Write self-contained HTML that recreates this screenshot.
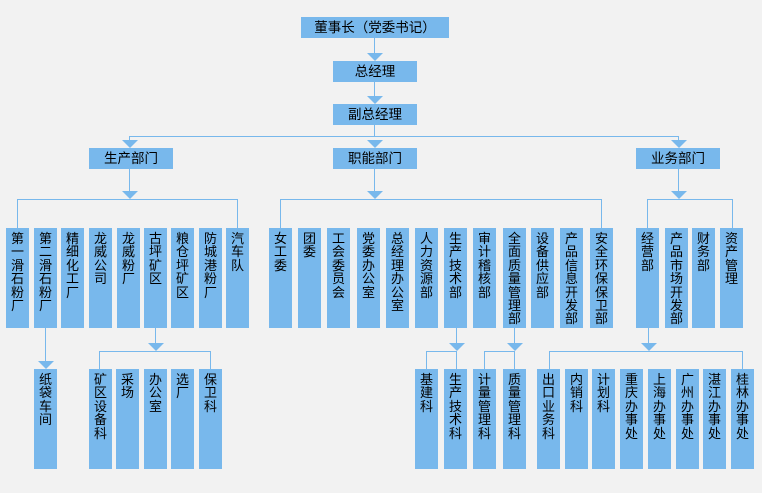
<!DOCTYPE html>
<html><head><meta charset="utf-8"><style>
body{margin:0;width:762px;height:493px;background:#f2f2f2;position:relative;overflow:hidden;font-family:"Liberation Sans","Noto Sans CJK SC","WenQuanYi Zen Hei",sans-serif;}
.b{position:absolute;background:#78b8ec;color:#000;font-size:13px;text-align:center;}
.h{height:21px;line-height:21px;font-size:13.5px;}
.v{width:23px;height:100px;top:228px;line-height:13.4px;padding-top:4px;box-sizing:border-box;word-break:break-all;}
.r3{top:369px;}
.l{position:absolute;background:#78b8ec;}
.a{position:absolute;width:0;height:0;border-left:8px solid transparent;border-right:8px solid transparent;border-top:8px solid #78b8ec;}
</style></head><body>
<div class="b h" style="left:301px;top:17px;width:148px">董事长（党委书记）</div>
<div class="b h" style="left:333px;top:61px;width:84px">总经理</div>
<div class="b h" style="left:333px;top:104px;width:84px">副总经理</div>
<div class="b h" style="left:89px;top:148px;width:84px">生产部门</div>
<div class="b h" style="left:333px;top:148px;width:84px">职能部门</div>
<div class="b h" style="left:636px;top:148px;width:84px">业务部门</div>

<div class="l" style="left:374px;top:38px;width:1px;height:15px"></div><div class="a" style="left:367px;top:53px"></div>
<div class="l" style="left:374px;top:82px;width:1px;height:14px"></div><div class="a" style="left:367px;top:96px"></div>
<div class="l" style="left:374px;top:125px;width:1px;height:11px"></div>
<div class="l" style="left:129px;top:136px;width:550px;height:1px"></div>
<div class="l" style="left:129px;top:136px;width:1px;height:4px"></div><div class="a" style="left:122px;top:140px"></div>
<div class="a" style="left:367px;top:140px"></div>
<div class="l" style="left:678px;top:136px;width:1px;height:4px"></div><div class="a" style="left:671px;top:140px"></div>

<div class="l" style="left:129px;top:169px;width:1px;height:22px"></div><div class="a" style="left:122px;top:191px"></div>
<div class="l" style="left:374px;top:169px;width:1px;height:22px"></div><div class="a" style="left:367px;top:191px"></div>
<div class="l" style="left:678px;top:169px;width:1px;height:22px"></div><div class="a" style="left:671px;top:191px"></div>

<div class="l" style="left:17px;top:199px;width:221px;height:1px"></div>
<div class="l" style="left:17px;top:199px;width:1px;height:29px"></div>
<div class="l" style="left:237px;top:199px;width:1px;height:29px"></div>
<div class="l" style="left:280px;top:199px;width:322px;height:1px"></div>
<div class="l" style="left:280px;top:199px;width:1px;height:29px"></div>
<div class="l" style="left:601px;top:199px;width:1px;height:29px"></div>
<div class="l" style="left:647px;top:199px;width:86px;height:1px"></div>
<div class="l" style="left:647px;top:199px;width:1px;height:29px"></div>
<div class="l" style="left:732px;top:199px;width:1px;height:29px"></div>

<div class="b v" style="left:6px">第一滑石粉厂</div>
<div class="b v" style="left:34px">第二滑石粉厂</div>
<div class="b v" style="left:61px">精细化工厂</div>
<div class="b v" style="left:89px">龙威公司</div>
<div class="b v" style="left:117px">龙威粉厂</div>
<div class="b v" style="left:144px">古坪矿区</div>
<div class="b v" style="left:171px">粮仓坪矿区</div>
<div class="b v" style="left:199px">防城港粉厂</div>
<div class="b v" style="left:226px">汽车队</div>

<div class="b v" style="left:269px">女工委</div>
<div class="b v" style="left:298px">团委</div>
<div class="b v" style="left:327px">工会委员会</div>
<div class="b v" style="left:357px">党委办公室</div>
<div class="b v" style="left:386px">总经理办公室</div>
<div class="b v" style="left:415px">人力资源部</div>
<div class="b v" style="left:444px">生产技术部</div>
<div class="b v" style="left:473px">审计稽核部</div>
<div class="b v" style="left:503px">全面质量管理部</div>
<div class="b v" style="left:531px">设备供应部</div>
<div class="b v" style="left:560px">产品信息开发部</div>
<div class="b v" style="left:590px">安全环保保卫部</div>

<div class="b v" style="left:636px">经营部</div>
<div class="b v" style="left:665px">产品市场开发部</div>
<div class="b v" style="left:692px">财务部</div>
<div class="b v" style="left:720px">资产管理</div>

<div class="l" style="left:45px;top:328px;width:1px;height:33px"></div><div class="a" style="left:38px;top:361px"></div>
<div class="l" style="left:155px;top:328px;width:1px;height:15px"></div><div class="a" style="left:148px;top:343px"></div>
<div class="l" style="left:456px;top:328px;width:1px;height:15px"></div><div class="a" style="left:449px;top:343px"></div>
<div class="l" style="left:514px;top:328px;width:1px;height:15px"></div><div class="a" style="left:507px;top:343px"></div>
<div class="l" style="left:648px;top:328px;width:1px;height:15px"></div><div class="a" style="left:641px;top:343px"></div>

<div class="l" style="left:99px;top:351px;width:112px;height:1px"></div>
<div class="l" style="left:99px;top:351px;width:1px;height:18px"></div>
<div class="l" style="left:210px;top:351px;width:1px;height:18px"></div>
<div class="l" style="left:426px;top:351px;width:31px;height:1px"></div>
<div class="l" style="left:426px;top:351px;width:1px;height:18px"></div>
<div class="l" style="left:456px;top:351px;width:1px;height:18px"></div>
<div class="l" style="left:484px;top:351px;width:31px;height:1px"></div>
<div class="l" style="left:484px;top:351px;width:1px;height:18px"></div>
<div class="l" style="left:514px;top:351px;width:1px;height:18px"></div>
<div class="l" style="left:549px;top:351px;width:194px;height:1px"></div>
<div class="l" style="left:549px;top:351px;width:1px;height:18px"></div>
<div class="l" style="left:742px;top:351px;width:1px;height:18px"></div>

<div class="b v r3" style="left:34px">纸袋车间</div>
<div class="b v r3" style="left:89px">矿区设备科</div>
<div class="b v r3" style="left:116px">采场</div>
<div class="b v r3" style="left:144px">办公室</div>
<div class="b v r3" style="left:171px">选厂</div>
<div class="b v r3" style="left:199px">保卫科</div>

<div class="b v r3" style="left:415px">基建科</div>
<div class="b v r3" style="left:444px">生产技术科</div>
<div class="b v r3" style="left:473px">计量管理科</div>
<div class="b v r3" style="left:503px">质量管理科</div>
<div class="b v r3" style="left:537px">出口业务科</div>
<div class="b v r3" style="left:565px">内销科</div>
<div class="b v r3" style="left:592px">计划科</div>
<div class="b v r3" style="left:620px">重庆办事处</div>
<div class="b v r3" style="left:648px">上海办事处</div>
<div class="b v r3" style="left:676px">广州办事处</div>
<div class="b v r3" style="left:703px">湛江办事处</div>
<div class="b v r3" style="left:731px">桂林办事处</div>
</body></html>
